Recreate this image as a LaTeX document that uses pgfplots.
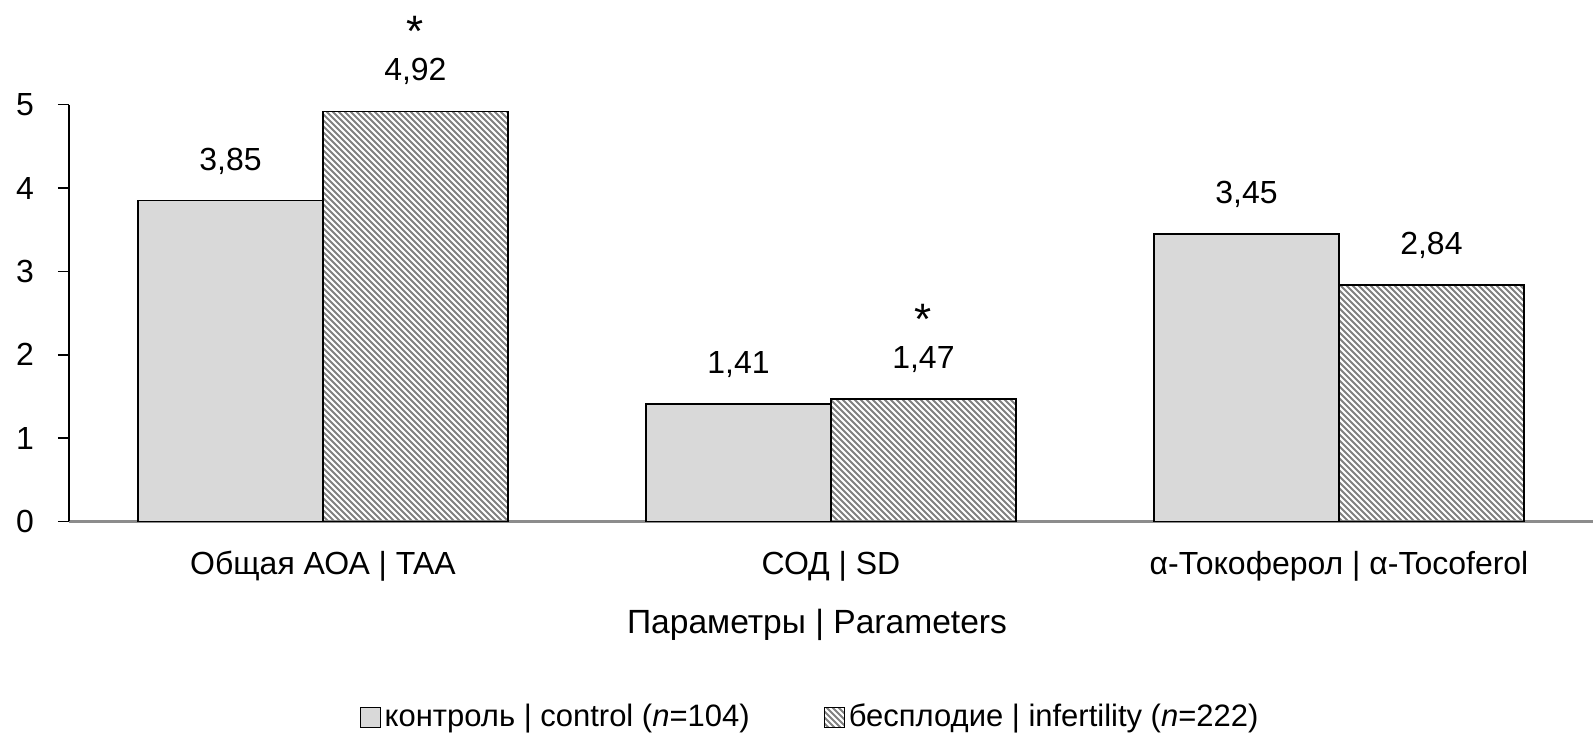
\documentclass[border=0pt]{standalone}
\usepackage{fontspec}
\setmainfont{Liberation Sans}
\usepackage{pgfplots}
\pgfplotsset{compat=1.18}
\usetikzlibrary{patterns.meta}
\definecolor{ctrl}{RGB}{217,217,217}
\definecolor{hatchgray}{RGB}{128,128,128}
\definecolor{axisgray}{RGB}{140,140,140}
\tikzdeclarepattern{name=hatch, type=uncolored,
  bounding box={(0pt,0pt) and (3pt,3pt)}, tile size={(3pt,3pt)},
  code={\pgfsetlinewidth{1.05pt}
    \pgfpathmoveto{\pgfqpoint{-1pt}{4pt}}\pgfpathlineto{\pgfqpoint{4pt}{-1pt}}
    \pgfpathmoveto{\pgfqpoint{-1pt}{1pt}}\pgfpathlineto{\pgfqpoint{1pt}{-1pt}}
    \pgfpathmoveto{\pgfqpoint{2pt}{4pt}}\pgfpathlineto{\pgfqpoint{4pt}{2pt}}
    \pgfusepath{stroke}}}
% value with a significance star above it
\newcommand\sig[1]{\ooalign{\hfil\raisebox{17pt}{\fontsize{22pt}{22pt}\selectfont *}\hfil\cr#1\cr}}
\begin{document}
\fontsize{16pt}{19.5pt}\selectfont
\begin{tikzpicture}
\useasboundingbox (-34.5pt,-111.2pt) rectangle (763pt,260.9pt);
\begin{axis}[
  at={(0pt,0pt)}, anchor=south west,
  scale only axis, width=762.5pt, height=208.5pt,
  ybar=0pt, bar width=92.5pt,
  xmin=-0.5, xmax=2.5, ymin=0, ymax=5,
  xtick={0,1,2},
  xticklabels={Общая АОА | TAA, СОД | SD, α-Токоферол | α-Tocoferol},
  ytick={0,1,2,3,4,5},
  axis x line*=bottom, axis y line*=left,
  x axis line style={draw=axisgray, line width=1.25pt},
  y axis line style={draw=black, line width=0.75pt},
  xtick style={draw=none},
  ytick style={draw=black, line width=0.75pt},
  tick align=outside, major tick length=5.5pt,
  /pgf/number format/assume math mode=true,
  xticklabel style={anchor=center, yshift=-17pt},
  yticklabel style={anchor=center, xshift=-16.5pt},
  xlabel={Параметры | Parameters},
  xlabel style={at={(axis description cs:0.5,-0.249)}, anchor=center, xshift=-7pt,
    font=\fontsize{16.8pt}{20pt}\selectfont},
  nodes near coords={\pgfplotspointmeta},
  point meta=explicit symbolic,
  every node near coord/.append style={anchor=south, yshift=7.5pt, black},
  legend style={at={(0.5,-0.47)}, anchor=center, xshift=-10pt, draw=none, fill=none,
    legend columns=2, font=\fontsize{15.5pt}{18pt}\selectfont,
    /tikz/every even column/.append style={column sep=35pt},
    nodes={inner sep=2pt}},
  legend image code/.code={\draw[#1, line width=0.6pt] (0pt,-5pt) rectangle (10pt,5pt);},
]
\addplot[fill=ctrl, draw=black, line width=0.75pt] coordinates {
  (0,3.85) [3,85]
  (1,1.41) [1,41]
  (2,3.45) [3,45]
};
\addplot[pattern=hatch, pattern color=hatchgray, draw=black, line width=0.75pt] coordinates {
  (0,4.92) [\sig{4,92}]
  (1,1.47) [\sig{1,47}]
  (2,2.84) [2,84]
};
\addlegendentry{контроль | control (\textit{n}=104)}
\addlegendentry{бесплодие | infertility (\textit{n}=222)}
\end{axis}
\end{tikzpicture}
\end{document}
